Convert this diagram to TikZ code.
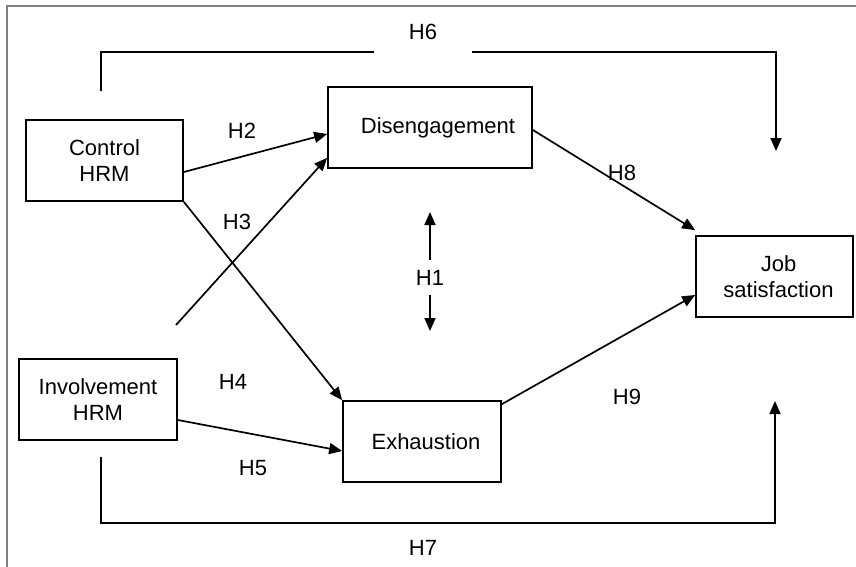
\documentclass[tikz,border=0pt]{standalone}
\usepackage{fontspec}
\setmainfont{Liberation Sans}
\usetikzlibrary{arrows.meta}
\begin{document}
\begin{tikzpicture}[x=1pt,y=-1pt,
  box/.style={draw,line width=1.7pt,inner sep=0pt,align=center,minimum height=81pt},
  lbl/.style={inner sep=0pt},
  conn/.style={line width=1.7pt},
  arr/.style={conn,-{Triangle[length=13pt,width=11pt]}},
  every node/.style={font=\fontsize{22}{26}\selectfont}]
\useasboundingbox (0,0) rectangle (856,567);
% frame
\draw[gray,line width=1.2pt] (7,567) -- (7,6) -- (856,6);
% boxes
\node[box,minimum width=157pt] (ctrl) at (104.5,160.5) {Control\\HRM};
\node[box,minimum width=204pt] (dis) at (430,127.5) {\hspace*{16pt}Disengagement};
\node[box,minimum width=157pt] (job) at (774.5,276.5) {\hspace*{8pt}Job\\\hspace*{8pt}satisfaction};
\node[box,minimum width=158pt] (inv) at (98,399.5) {Involvement\\HRM};
\node[box,minimum width=158pt] (exh) at (422,441.5) {\hspace*{8pt}Exhaustion};
% labels
\node[lbl] (l2) at (242,131) {H2};
\node[lbl] (l3) at (237,222) {H3};
\node[lbl] (l4) at (233,382) {H4};
\node[lbl] (l5) at (253,468) {H5};
\node[lbl] (l6) at (423,32) {H6};
\node[lbl] (l7) at (423,548) {H7};
\node[lbl] (l8) at (622,173) {H8};
\node[lbl] (l9) at (627,397) {H9};
\node[lbl,minimum height=35pt] (l1) at (430,277.5) {H1};
% free ends
\coordinate (h3s) at (176,325);
\coordinate (h1t) at (430,212);
\coordinate (h1b) at (430,331);
\coordinate (h6a) at (101,91);
\coordinate (h6b) at (101,52);
\coordinate (h6c) at (374,52);
\coordinate (h6d) at (472,52);
\coordinate (h6e) at (776,52);
\coordinate (h6f) at (776,151);
\coordinate (h7a) at (101,457);
\coordinate (h7b) at (101,523);
\coordinate (h7c) at (775,523);
\coordinate (h7d) at (775,401);
% connectors
\draw[arr] ([yshift=-11.5pt]ctrl.east) -- ([yshift=-6.5pt]dis.west);
\draw[arr] (h3s) -- ([yshift=11pt]dis.south west);
\draw[arr] (ctrl.south east) -- (exh.north west);
\draw[arr] ([yshift=-20.5pt]inv.east) -- ([yshift=-9.5pt]exh.west);
\draw[arr] ([yshift=-2.5pt]dis.east) -- ([yshift=5pt]job.north west);
\draw[arr] ([yshift=-4pt]exh.north east) -- ([yshift=-18.5pt]job.west);
\draw[arr] (l1.north) -- (h1t);
\draw[arr] (l1.south) -- (h1b);
\draw[conn] (h6a) -- (h6b) -- (h6c);
\draw[arr] (h6d) -- (h6e) -- (h6f);
\draw[arr] (h7a) -- (h7b) -- (h7c) -- (h7d);
\end{tikzpicture}
\end{document}
